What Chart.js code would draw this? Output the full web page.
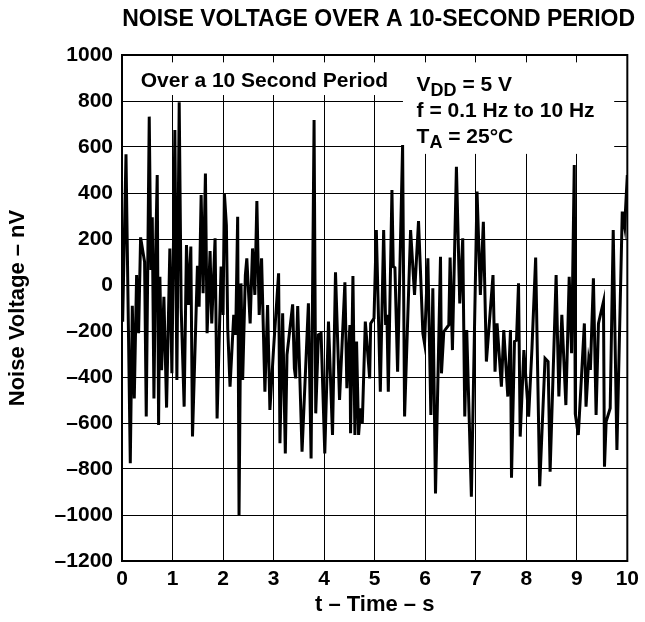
<!DOCTYPE html>
<html lang="en">
<head>
  <meta charset="UTF-8">
  <title>Noise Voltage Over a 10-Second Period</title>
  <script src="https://cdn.jsdelivr.net/npm/chart.js"></script>
  <style>
    html, body { margin: 0; padding: 0; background: #fff; }
    #wrap { width: 645px; height: 622px; position: relative; }
  </style>
</head>
<body>
  <div id="wrap"><canvas id="noiseChart"></canvas></div>
  <script>
    // time (s) and noise voltage (nV)
    const times = [
      0.013, 0.079, 0.164, 0.204, 0.243, 0.289, 0.329, 0.368, 0.447, 0.480,
      0.539, 0.572, 0.599, 0.632, 0.665, 0.697, 0.724, 0.750, 0.783, 0.829,
      0.882, 0.947, 0.987, 1.046, 1.086, 1.132, 1.171, 1.230, 1.276, 1.316,
      1.362, 1.395, 1.493, 1.526, 1.566, 1.605, 1.651, 1.684, 1.743, 1.776,
      1.842, 1.882, 1.961, 2.000, 2.026, 2.066, 2.092, 2.138, 2.211, 2.250,
      2.289, 2.316, 2.355, 2.388, 2.441, 2.470, 2.536, 2.583, 2.629, 2.669,
      2.715, 2.762, 2.828, 2.881, 2.927, 3.000, 3.099, 3.126, 3.179, 3.232,
      3.265, 3.377, 3.411, 3.437, 3.477, 3.563, 3.689, 3.742, 3.801, 3.834,
      3.887, 3.940, 4.013, 4.086, 4.166, 4.225, 4.305, 4.411, 4.450, 4.510,
      4.523, 4.570, 4.609, 4.642, 4.682, 4.722, 4.755, 4.815, 4.901, 4.921,
      4.987, 5.033, 5.112, 5.178, 5.217, 5.243, 5.270, 5.342, 5.368, 5.401,
      5.454, 5.553, 5.592, 5.711, 5.789, 5.868, 5.954, 5.987, 6.053, 6.112,
      6.151, 6.204, 6.303, 6.322, 6.368, 6.467, 6.493, 6.539, 6.618, 6.684,
      6.743, 6.783, 6.822, 6.914, 7.026, 7.092, 7.151, 7.211, 7.342, 7.382,
      7.422, 7.508, 7.555, 7.635, 7.688, 7.708, 7.767, 7.807, 7.847, 7.880,
      7.953, 8.047, 8.113, 8.186, 8.266, 8.372, 8.432, 8.472, 8.591, 8.645,
      8.704, 8.784, 8.850, 8.897, 8.950, 8.970, 9.030, 9.150, 9.183, 9.236,
      9.269, 9.329, 9.382, 9.429, 9.528, 9.548, 9.581, 9.661, 9.721, 9.794,
      9.900, 9.947, 10.000
    ];
    const noise = [
      -160, 568, -775, -90, -493, 43, -210, 207, 101, -572,
      732, 65, 294, -493, 130, 478, -609, 36, -370, -51,
      -533, 159, -384, 674, -413, 794, -100, -529, 174, -87,
      167, -659, 84, -94, 391, -36, 485, -210, 148, -167,
      203, -580, 80, -130, 399, 260, -188, -442, -130, -217,
      297, -1000, 7, -413, 43, 116, -167, 159, -43, 365,
      -130, 116, -464, -87, -543, -275, 51, -688, -123, -732,
      -304, -84, -362, -406, -91, -725, -80, -754, 717, -558,
      -217, -210, -732, -159, -652, 55, -500, 12, -449, -174,
      -645, 39, -652, -246, -652, -536, -601, -159, -406, -167,
      -145, 239, -464, 239, -174, -130, -464, 413, 80, 75,
      -377, 609, -572, 239, -43, 278, -210, -254, 116, -565,
      -14, -906, 123, -384, -203, -174, 119, -283, 514, -80,
      203, -572, -196, -920, 406, -43, 275, -333, 43, -377,
      -167, -442, -196, -485, -196, -838, -246, -239, 7, -659,
      -283, -572, -275, 119, -875, -319, -333, -812, 43, -485,
      -130, -522, 36, -297, 522, -560, -652, -167, -529, -326,
      -369, 29, -565, -167, -72, -790, -594, -536, 239, -717,
      319, 254, 478
    ];
    const xTicks = [0, 1, 2, 3, 4, 5, 6, 7, 8, 9, 10];
    const yTicks = [1000, 800, 600, 400, 200, 0, -200, -400, -600, -800, -1000, -1200];

    const FONT = '"Liberation Sans", Arial, Helvetica, sans-serif';

    // title, white label boxes, condition text, plot frame
    const decorations = {
      id: 'decorations',
      beforeDatasetsDraw(chart) {
        const { ctx, scales: { x, y } } = chart;
        ctx.save();
        ctx.fillStyle = '#fff';
        const box = (x0, x1, y0, y1) => {
          const l = x.getPixelForValue(x0), r = x.getPixelForValue(x1);
          const t = y.getPixelForValue(y0), b = y.getPixelForValue(y1);
          ctx.fillRect(l, t, r - l, b - t);
        };
        box(0.02, 5.56, 968, 826);
        box(5.56, 9.74, 968, 570);
        ctx.restore();
      },
      afterDraw(chart) {
        const { ctx, chartArea: a, scales: { x, y } } = chart;
        ctx.save();
        ctx.fillStyle = '#000';
        ctx.textAlign = 'center';
        ctx.textBaseline = 'middle';
        ctx.font = 'bold 23px ' + FONT;
        ctx.fillText('NOISE VOLTAGE OVER A 10-SECOND PERIOD', (a.left + a.right) / 2 + 4, 20);

        ctx.textAlign = 'left';
        ctx.textBaseline = 'alphabetic';
        ctx.font = 'bold 21px ' + FONT;
        ctx.fillText('Over a 10 Second Period', x.getPixelForValue(0.37), y.getPixelForValue(863));

        const withSub = (main, sub, rest, t, v) => {
          let px = x.getPixelForValue(t);
          const py = y.getPixelForValue(v);
          ctx.font = 'bold 21px ' + FONT;
          ctx.fillText(main, px, py);
          px += ctx.measureText(main).width;
          ctx.font = 'bold 18px ' + FONT;
          ctx.fillText(sub, px, py + 5);
          px += ctx.measureText(sub).width;
          ctx.font = 'bold 21px ' + FONT;
          ctx.fillText(rest, px, py);
        };
        withSub('V', 'DD', ' = 5 V', 5.83, 843);
        ctx.font = 'bold 21px ' + FONT;
        ctx.fillText('f = 0.1 Hz to 10 Hz', x.getPixelForValue(5.83), y.getPixelForValue(730));
        withSub('T', 'A', ' = 25°C', 5.83, 617);

        ctx.lineWidth = 2;
        ctx.strokeStyle = '#000';
        ctx.strokeRect(a.left, a.top, a.right - a.left, a.bottom - a.top);
        ctx.restore();
      }
    };

    const points = times.map((t, i) => ({ x: t, y: noise[i] }));

    new Chart(document.getElementById('noiseChart'), {
      type: 'line',
      data: {
        datasets: [{
          label: 'Noise Voltage',
          data: points,
          borderColor: '#000',
          borderWidth: 3,
          pointRadius: 0,
          tension: 0,
          fill: false
        }]
      },
      options: {
        responsive: true,
        maintainAspectRatio: false,
        animation: false,
        layout: { padding: { top: 55, right: 15, bottom: 0, left: 0 } },
        plugins: {
          legend: { display: false },
          tooltip: { enabled: false }
        },
        scales: {
          x: {
            type: 'linear',
            min: 0,
            max: 10,
            afterBuildTicks: s => { s.ticks = xTicks.map(v => ({ value: v })); },
            afterFit: s => { s.height = 61; },
            grid: { color: '#000', lineWidth: 1, drawTicks: false },
            border: { display: false },
            ticks: {
              color: '#000',
              padding: 6,
              maxRotation: 0,
              font: { family: FONT, size: 21, weight: 'bold' }
            },
            title: {
              display: true,
              text: 't – Time – s',
              color: '#000',
              padding: { top: 0, bottom: 4 },
              font: { family: FONT, size: 22, weight: 'bold' }
            }
          },
          y: {
            type: 'linear',
            min: -1200,
            max: 1000,
            afterBuildTicks: s => { s.ticks = yTicks.map(v => ({ value: v })); },
            afterFit: s => { s.width = 122; },
            grid: { color: '#000', lineWidth: 1, drawTicks: false },
            border: { display: false },
            ticks: {
              color: '#000',
              padding: 9,
              font: { family: FONT, size: 21, weight: 'bold' },
              callback: v => (v < 0 ? '–' + Math.abs(v) : String(v))
            },
            title: {
              display: true,
              text: 'Noise Voltage – nV',
              color: '#000',
              padding: { top: 5, bottom: 0 },
              font: { family: FONT, size: 22, weight: 'bold' }
            }
          }
        }
      },
      plugins: [decorations]
    });
  </script>
</body>
</html>
